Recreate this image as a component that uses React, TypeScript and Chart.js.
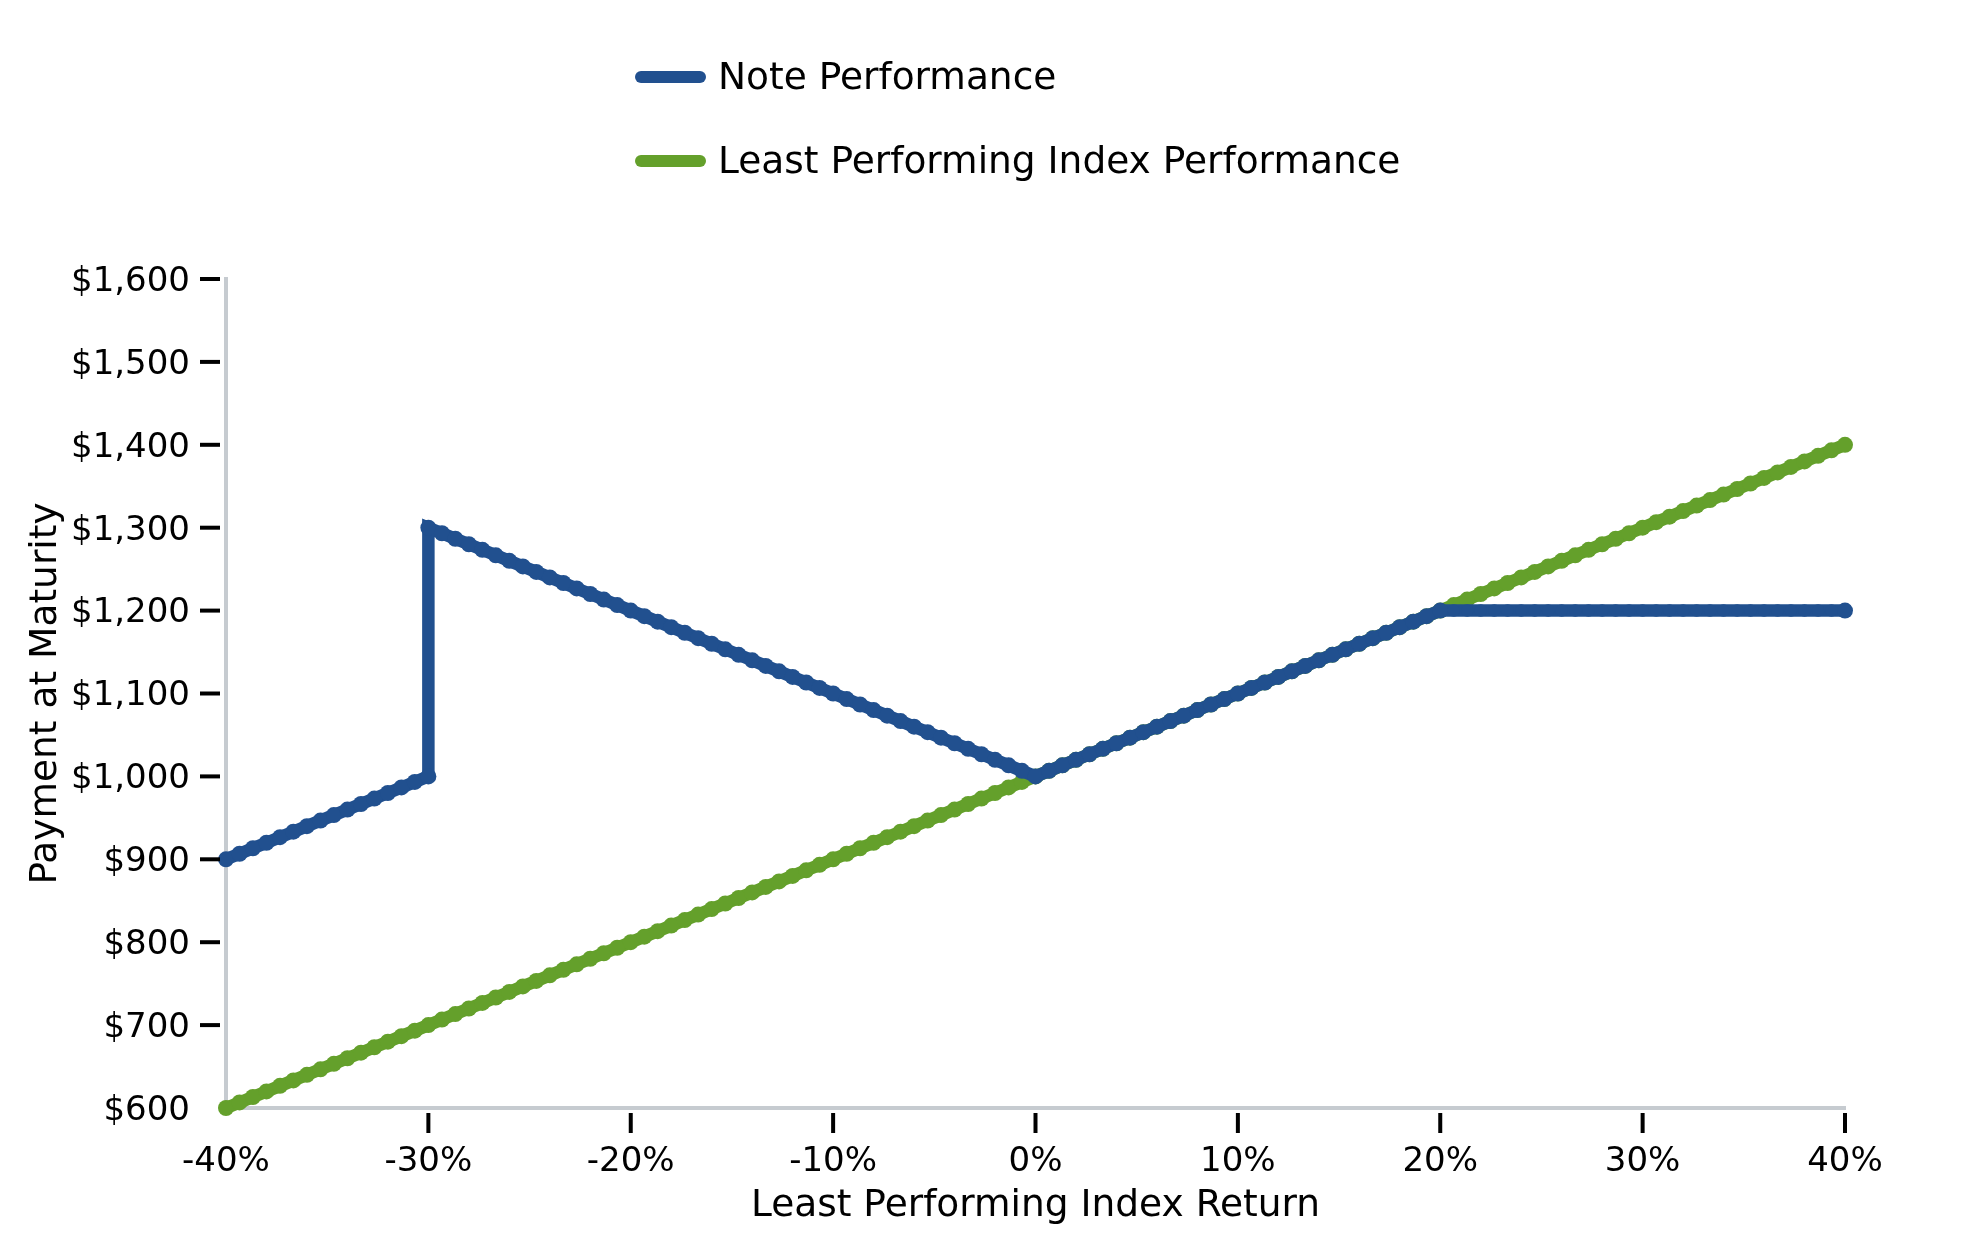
import React, { useEffect, useRef } from 'react';
import { Chart, registerables } from 'chart.js';

Chart.register(...registerables);

const FONT = '"DejaVu Sans", Verdana, sans-serif';

// Least performing index return (%), x values of the index series
const returns = [
  -40, -39.33, -38.67, -38, -37.33, -36.67, -36, -35.33, -34.67, -34, -33.33, -32.67, -32, -31.33, -30.67,
  -30, -29.33, -28.67, -28, -27.33, -26.67, -26, -25.33, -24.67, -24, -23.33, -22.67, -22, -21.33, -20.67,
  -20, -19.33, -18.67, -18, -17.33, -16.67, -16, -15.33, -14.67, -14, -13.33, -12.67, -12, -11.33, -10.67,
  -10, -9.33, -8.67, -8, -7.33, -6.67, -6, -5.33, -4.67, -4, -3.33, -2.67, -2, -1.33, -0.67,
  0, 0.67, 1.33, 2, 2.67, 3.33, 4, 4.67, 5.33, 6, 6.67, 7.33, 8, 8.67, 9.33,
  10, 10.67, 11.33, 12, 12.67, 13.33, 14, 14.67, 15.33, 16, 16.67, 17.33, 18, 18.67, 19.33,
  20, 20.67, 21.33, 22, 22.67, 23.33, 24, 24.67, 25.33, 26, 26.67, 27.33, 28, 28.67, 29.33,
  30, 30.67, 31.33, 32, 32.67, 33.33, 34, 34.67, 35.33, 36, 36.67, 37.33, 38, 38.67, 39.33,
  40,
];

// Least Performing Index Performance ($)
const indexValues = [
  600, 606.7, 613.3, 620, 626.7, 633.3, 640, 646.7, 653.3, 660, 666.7, 673.3, 680, 686.7, 693.3,
  700, 706.7, 713.3, 720, 726.7, 733.3, 740, 746.7, 753.3, 760, 766.7, 773.3, 780, 786.7, 793.3,
  800, 806.7, 813.3, 820, 826.7, 833.3, 840, 846.7, 853.3, 860, 866.7, 873.3, 880, 886.7, 893.3,
  900, 906.7, 913.3, 920, 926.7, 933.3, 940, 946.7, 953.3, 960, 966.7, 973.3, 980, 986.7, 993.3,
  1000, 1006.7, 1013.3, 1020, 1026.7, 1033.3, 1040, 1046.7, 1053.3, 1060, 1066.7, 1073.3, 1080, 1086.7, 1093.3,
  1100, 1106.7, 1113.3, 1120, 1126.7, 1133.3, 1140, 1146.7, 1153.3, 1160, 1166.7, 1173.3, 1180, 1186.7, 1193.3,
  1200, 1206.7, 1213.3, 1220, 1226.7, 1233.3, 1240, 1246.7, 1253.3, 1260, 1266.7, 1273.3, 1280, 1286.7, 1293.3,
  1300, 1306.7, 1313.3, 1320, 1326.7, 1333.3, 1340, 1346.7, 1353.3, 1360, 1366.7, 1373.3, 1380, 1386.7, 1393.3,
  1400,
];

// x values of the note series (the -30% barrier appears twice: before and after the jump)
const noteReturns = [
  -40, -39.33, -38.67, -38, -37.33, -36.67, -36, -35.33, -34.67, -34, -33.33, -32.67, -32, -31.33, -30.67,
  -30, -30, -29.33, -28.67, -28, -27.33, -26.67, -26, -25.33, -24.67, -24, -23.33, -22.67, -22, -21.33, -20.67,
  -20, -19.33, -18.67, -18, -17.33, -16.67, -16, -15.33, -14.67, -14, -13.33, -12.67, -12, -11.33, -10.67,
  -10, -9.33, -8.67, -8, -7.33, -6.67, -6, -5.33, -4.67, -4, -3.33, -2.67, -2, -1.33, -0.67,
  0, 0.67, 1.33, 2, 2.67, 3.33, 4, 4.67, 5.33, 6, 6.67, 7.33, 8, 8.67, 9.33,
  10, 10.67, 11.33, 12, 12.67, 13.33, 14, 14.67, 15.33, 16, 16.67, 17.33, 18, 18.67, 19.33,
  20, 20.67, 21.33, 22, 22.67, 23.33, 24, 24.67, 25.33, 26, 26.67, 27.33, 28, 28.67, 29.33,
  30, 30.67, 31.33, 32, 32.67, 33.33, 34, 34.67, 35.33, 36, 36.67, 37.33, 38, 38.67, 39.33,
  40,
];

// Note Performance ($)
const noteValues = [
  900, 906.7, 913.3, 920, 926.7, 933.3, 940, 946.7, 953.3, 960, 966.7, 973.3, 980, 986.7, 993.3,
  1000, 1300, 1293.3, 1286.7, 1280, 1273.3, 1266.7, 1260, 1253.3, 1246.7, 1240, 1233.3, 1226.7, 1220, 1213.3, 1206.7,
  1200, 1193.3, 1186.7, 1180, 1173.3, 1166.7, 1160, 1153.3, 1146.7, 1140, 1133.3, 1126.7, 1120, 1113.3, 1106.7,
  1100, 1093.3, 1086.7, 1080, 1073.3, 1066.7, 1060, 1053.3, 1046.7, 1040, 1033.3, 1026.7, 1020, 1013.3, 1006.7,
  1000, 1006.7, 1013.3, 1020, 1026.7, 1033.3, 1040, 1046.7, 1053.3, 1060, 1066.7, 1073.3, 1080, 1086.7, 1093.3,
  1100, 1106.7, 1113.3, 1120, 1126.7, 1133.3, 1140, 1146.7, 1153.3, 1160, 1166.7, 1173.3, 1180, 1186.7, 1193.3,
  1200, 1200, 1200, 1200, 1200, 1200, 1200, 1200, 1200, 1200, 1200, 1200, 1200, 1200, 1200,
  1200, 1200, 1200, 1200, 1200, 1200, 1200, 1200, 1200, 1200, 1200, 1200, 1200, 1200, 1200,
  1200,
];

const seriesLabels = ['Note Performance', 'Least Performing Index Performance'];
const seriesColors = ['#21508f', '#64a02b'];

const xTitle = 'Least Performing Index Return';
const yTitle = 'Payment at Maturity';

const AXIS_GRAY = '#c6cbd0';
const LINE_WIDTH = 12.5;

const tickMarksPlugin = {
  id: 'tickMarks',
  afterDraw(chart: any) {
    const { ctx, chartArea, scales } = chart;
    ctx.save();
    ctx.strokeStyle = '#000';
    ctx.lineWidth = 4;
    ctx.lineCap = 'butt';
    const xs = scales.x;
    xs.ticks.forEach((t: any, i: number) => {
      if (i === 0) return;
      const px = xs.getPixelForValue(t.value);
      ctx.beginPath();
      ctx.moveTo(px, chartArea.bottom + 5);
      ctx.lineTo(px, chartArea.bottom + 25);
      ctx.stroke();
    });
    const ys = scales.y;
    ys.ticks.forEach((t: any, i: number) => {
      if (i === 0) return;
      const py = ys.getPixelForValue(t.value);
      ctx.beginPath();
      ctx.moveTo(chartArea.left - 26, py);
      ctx.lineTo(chartArea.left - 6, py);
      ctx.stroke();
    });
    ctx.restore();
  },
};

const legendPlugin = {
  id: 'stackedLegend',
  afterDraw(chart: any) {
    const { ctx } = chart;
    ctx.save();
    chart.data.datasets.forEach((ds: any, i: number) => {
      const y = 77 + i * 84;
      ctx.strokeStyle = ds.borderColor;
      ctx.lineWidth = 12;
      ctx.lineCap = 'round';
      ctx.beginPath();
      ctx.moveTo(641, y);
      ctx.lineTo(700, y);
      ctx.stroke();
      ctx.fillStyle = '#000';
      ctx.font = `37.5px ${FONT}`;
      ctx.textBaseline = 'middle';
      ctx.textAlign = 'left';
      ctx.fillText(ds.label, 718, y + 2);
    });
    ctx.restore();
  },
};

// Markers on a flat run merge into the band (no scallops there)
const markerRadius = (c: any) => {
  const d = c.dataset.data;
  const i = c.dataIndex;
  const p = d[i - 1];
  const n = d[i + 1];
  if (p && n && p.y === d[i].y && n.y === d[i].y) return LINE_WIDTH / 2;
  return 8;
};

export default function App() {
  const canvasRef = useRef<HTMLCanvasElement | null>(null);

  useEffect(() => {
    if (!canvasRef.current) return;
    const noteData = noteReturns.map((r, i) => ({ x: r, y: noteValues[i] }));
    const indexData = returns.map((r, i) => ({ x: r, y: indexValues[i] }));
    const common = {
      borderWidth: LINE_WIDTH,
      pointRadius: markerRadius,
      pointHoverRadius: markerRadius,
      pointBorderWidth: 0,
      tension: 0,
      fill: false,
      clip: false as any,
    };
    const chart = new Chart(canvasRef.current, {
      type: 'line',
      data: {
        datasets: [
          {
            ...common,
            label: seriesLabels[0],
            data: noteData,
            borderColor: seriesColors[0],
            backgroundColor: seriesColors[0],
            pointBackgroundColor: seriesColors[0],
          },
          {
            ...common,
            label: seriesLabels[1],
            data: indexData,
            borderColor: seriesColors[1],
            backgroundColor: seriesColors[1],
            pointBackgroundColor: seriesColors[1],
          },
        ],
      },
      options: {
        animation: false,
        responsive: true,
        maintainAspectRatio: false,
        devicePixelRatio: 1,
        layout: { padding: { top: 279, right: 134, left: 0, bottom: 0 } },
        plugins: {
          legend: { display: false },
          tooltip: { enabled: false },
        },
        scales: {
          x: {
            type: 'linear',
            min: -40,
            max: 40,
            grid: { display: false, drawTicks: false },
            border: { display: true, color: AXIS_GRAY, width: 4 },
            ticks: {
              stepSize: 10,
              color: '#000',
              font: { family: FONT, size: 34 },
              padding: 34,
              maxRotation: 0,
              callback: (v: any) => `${v}%`,
            },
            title: {
              display: true,
              text: xTitle,
              color: '#000',
              font: { family: FONT, size: 37.5 },
              padding: { top: 0, bottom: 21 },
            },
            afterFit: (scale: any) => {
              scale.height = 142;
            },
          },
          y: {
            type: 'linear',
            min: 600,
            max: 1600,
            grid: { display: false, drawTicks: false },
            border: { display: true, color: AXIS_GRAY, width: 4 },
            ticks: {
              stepSize: 100,
              color: '#000',
              font: { family: FONT, size: 34 },
              padding: 36,
              labelOffset: 3,
              callback: (v: any) => `$${Number(v).toLocaleString('en-US')}`,
            },
            title: {
              display: true,
              text: yTitle,
              color: '#000',
              font: { family: FONT, size: 37.5 },
              padding: { top: 24, bottom: 0 },
            },
            afterFit: (scale: any) => {
              scale.width = 226;
            },
          },
        },
      },
      plugins: [tickMarksPlugin, legendPlugin],
    });
    return () => chart.destroy();
  }, []);

  return (
    <div style={{ position: 'fixed', left: 0, top: 0, width: 1979, height: 1250, background: '#fff' }}>
      <canvas ref={canvasRef} />
    </div>
  );
}
